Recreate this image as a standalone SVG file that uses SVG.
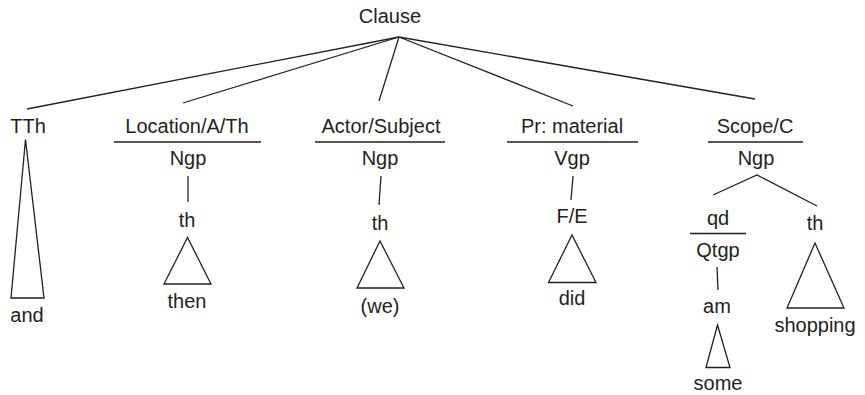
<svg xmlns="http://www.w3.org/2000/svg" width="865" height="395" viewBox="0 0 865 395">
<style>
text{font-family:"Liberation Sans",Arial,sans-serif;font-size:20px;fill:#231f20;text-anchor:middle}
line,polygon,polyline{stroke:#231f20;stroke-width:1.3;fill:none}
</style>
<rect width="865" height="395" fill="#fff"/>
<g id="connectors">
<line x1="399" y1="37" x2="27" y2="109"/>
<line x1="399" y1="37" x2="183" y2="103"/>
<line x1="399" y1="37" x2="379" y2="101"/>
<line x1="399" y1="37" x2="573" y2="106"/>
<line x1="399" y1="37" x2="755" y2="99"/>
<line x1="188" y1="176" x2="188" y2="202"/>
<line x1="381" y1="176" x2="379" y2="205"/>
<line x1="573" y1="176" x2="571" y2="200"/>
<polyline points="713,195 757,175 817,206"/>
<line x1="717" y1="267" x2="718" y2="290"/>
</g>
<g id="clause"><text x="390" y="23">Clause</text></g>
<g id="tth">
<text x="28" y="133">TTh</text>
<polygon points="25.5,139.5 11,298 44,298"/>
<text x="27" y="322">and</text>
</g>
<g id="location">
<text x="187" y="133">Location/A/Th</text>
<line x1="114" y1="142" x2="261" y2="142"/>
<text x="188" y="165">Ngp</text>
<text x="187" y="227">th</text>
<polygon points="187.5,237.5 164,284 211,284"/>
<text x="187" y="308">then</text>
</g>
<g id="actor">
<text x="381" y="133">Actor/Subject</text>
<line x1="315" y1="142" x2="445" y2="142"/>
<text x="380" y="165">Ngp</text>
<text x="380" y="230">th</text>
<polygon points="380,241 357,288 404,288"/>
<text x="380" y="313">(we)</text>
</g>
<g id="process">
<text x="572" y="133">Pr: material</text>
<line x1="507" y1="142" x2="638" y2="142"/>
<text x="572" y="165">Vgp</text>
<text x="572" y="223">F/E</text>
<polygon points="572,235 548.5,282.5 596,282.5"/>
<text x="572" y="305">did</text>
</g>
<g id="scope">
<text x="755" y="133">Scope/C</text>
<line x1="708" y1="142" x2="803" y2="142"/>
<text x="756" y="165">Ngp</text>
</g>
<g id="qd">
<text x="718" y="225">qd</text>
<line x1="690" y1="233.5" x2="746" y2="233.5"/>
<text x="718" y="257">Qtgp</text>
<text x="717" y="313">am</text>
<polygon points="717.5,325 706,367.5 730,367.5"/>
<text x="718" y="390">some</text>
</g>
<g id="th-shopping">
<text x="815" y="230">th</text>
<polygon points="815,243 787,308 844,308"/>
<text x="815" y="332">shopping</text>
</g>
</svg>
